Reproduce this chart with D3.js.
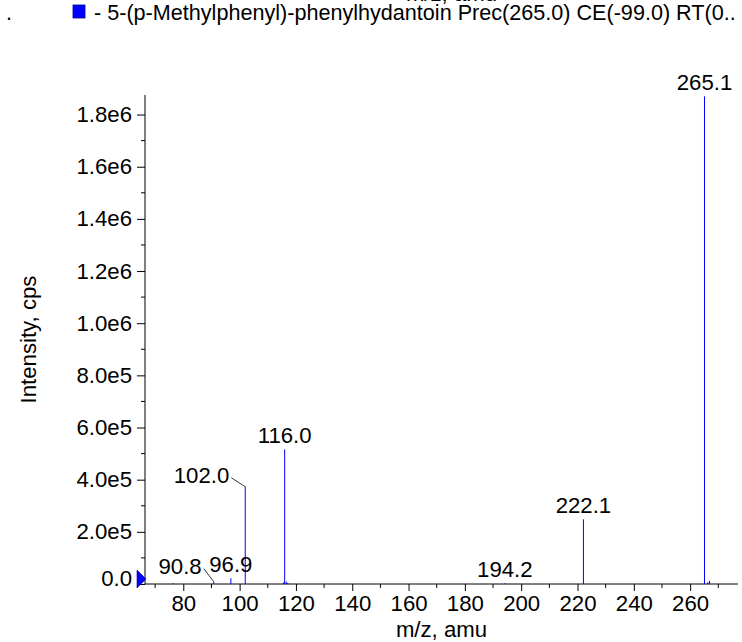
<!DOCTYPE html>
<html>
<head>
<meta charset="utf-8">
<script src="https://cdn.jsdelivr.net/npm/d3@7"></script>
<style>
  body { margin: 0; background: #fff; }
  svg { display: block; font-family: "Liberation Sans", Arial, Helvetica, sans-serif; }
</style>
</head>
<body>
<svg id="chart" width="742" height="642"></svg>
<script>
// spectrum sticks (m/z, intensity in cps)
const peakMz  = [76.4, 90.8, 96.9, 102.0, 115.6, 116.0, 116.6, 117.1, 194.2, 222.1, 265.1, 266.3, 266.9];
const peakInt = [3000, 9000, 22000, 373000, 6000, 516000, 9000, 4000, 3000, 248000, 1870000, 7000, 12000];

// labelled peaks
const labelMz = [90.8, 96.9, 102.0, 116.0, 194.2, 222.1, 265.1];
const labelText = ["90.8", "96.9", "102.0", "116.0", "194.2", "222.1", "265.1"];

const xTicks = [80, 100, 120, 140, 160, 180, 200, 220, 240, 260];
const xMinorTicks = [70, 90, 110, 130, 150, 170, 190, 210, 230, 250, 270];
const yTicks = [0, 2e5, 4e5, 6e5, 8e5, 1e6, 1.2e6, 1.4e6, 1.6e6, 1.8e6];
const yMinorTicks = [1e5, 3e5, 5e5, 7e5, 9e5, 1.1e6, 1.3e6, 1.5e6, 1.7e6];

const titleText = "- 5-(p-Methylphenyl)-phenylhydantoin Prec(265.0) CE(-99.0) RT(0..";

const svg = d3.select('#chart');
const fs = 21.6;   // header
const fsAx = 22.2; // ticks, axis titles, peak labels
const plotL = 145, plotR = 738, plotT = 95, plotB = 584;

const x = d3.scaleLinear().domain([66.4, 277]).range([plotL, plotR]);
const y = d3.scaleLinear().domain([0, 1.875e6]).range([plotB, plotT]);

function fmtY(v) {
    if (v === 0) return "0.0";
    const e = Math.floor(Math.log10(v));
    return (v / Math.pow(10, e)).toFixed(1) + "e" + e;
}

// header (cut-off label from panel above + legend line)
svg.append('text')
    .attr('x', (plotL + plotR) / 2 + 10).attr('y', 1)
    .attr('text-anchor', 'middle').attr('font-size', fsAx)
    .text('m/z, amu');
svg.append('text').attr('x', 6).attr('y', 20).attr('font-size', fs).text('.');
svg.append('rect')
    .attr('x', 73).attr('y', 5).attr('width', 12).attr('height', 13)
    .attr('fill', '#0000ff').attr('stroke', '#0000a0').attr('stroke-width', 0.8);
svg.append('text')
    .attr('x', 94).attr('y', 20).attr('font-size', fs)
    .text(titleText);

// axes
const gx = svg.append('g').attr('transform', `translate(0,${plotB})`);
gx.call(d3.axisBottom(x).tickValues(xTicks).tickSize(7).tickPadding(4).tickFormat(d3.format('d')));
gx.append('g').selectAll('line').data(xMinorTicks).join('line')
    .attr('x1', d => x(d)).attr('x2', d => x(d))
    .attr('y1', 0).attr('y2', 4).attr('stroke', '#000');

const gy = svg.append('g').attr('transform', `translate(${plotL},0)`);
gy.call(d3.axisLeft(y).tickValues(yTicks).tickSize(8).tickPadding(5).tickFormat(fmtY));
gy.append('g').selectAll('line').data(yMinorTicks).join('line')
    .attr('y1', d => y(d)).attr('y2', d => y(d))
    .attr('x1', 0).attr('x2', -4).attr('stroke', '#000');

[gx, gy].forEach(g => {
    g.select('.domain').remove();
    g.selectAll('text').attr('font-size', fsAx).attr('font-family', null).attr('fill', '#000');
});
svg.append('line').attr('x1', plotL).attr('x2', plotR).attr('y1', plotB).attr('y2', plotB).attr('stroke', '#000');
svg.append('line').attr('x1', plotL).attr('x2', plotL).attr('y1', plotT).attr('y2', plotB).attr('stroke', '#000');
gy.selectAll('.tick').filter(d => d === 0).select('text').attr('dy', '0.08em');

// axis titles
svg.append('text')
    .attr('x', (plotL + plotR) / 2).attr('y', 637)
    .attr('text-anchor', 'middle').attr('font-size', fsAx)
    .text('m/z, amu');
svg.append('text')
    .attr('transform', `translate(36,${(plotT + plotB) / 2}) rotate(-90)`)
    .attr('text-anchor', 'middle').attr('font-size', fsAx)
    .text('Intensity, cps');

// zero marker
svg.append('path')
    .attr('d', `M${plotL - 8},${plotB - 14} L${plotL + 1},${plotB - 5} L${plotL - 8},${plotB + 4} Z`)
    .attr('fill', '#0000ff').attr('stroke', '#0000a0').attr('stroke-width', 0.6);

// sticks
svg.append('g').selectAll('line').data(peakMz).join('line')
    .attr('x1', d => x(d)).attr('x2', d => x(d))
    .attr('y1', y(0)).attr('y2', (d, i) => y(peakInt[i]))
    .attr('stroke', '#0000ff').attr('stroke-width', 1);

// peak labels; 90.8 and 102.0 are pushed left with leader lines
const shifted = { "90.8": [-12, -8], "102.0": [-16, -4] };
labelMz.forEach((m, i) => {
    const k = peakMz.indexOf(m);
    const px = x(m), py = y(peakInt[k]);
    const off = shifted[labelText[i]];
    if (off) {
        svg.append('text')
            .attr('x', px + off[0]).attr('y', py + off[1])
            .attr('text-anchor', 'end').attr('font-size', fsAx)
            .text(labelText[i]);
        svg.append('line')
            .attr('x1', px + off[0] + 2).attr('y1', py + off[1] - 5)
            .attr('x2', px).attr('y2', py)
            .attr('stroke', '#000').attr('stroke-width', 0.8);
    } else {
        svg.append('text')
            .attr('x', px).attr('y', py - 6)
            .attr('text-anchor', 'middle').attr('font-size', fsAx)
            .text(labelText[i]);
    }
});
</script>
</body>
</html>
